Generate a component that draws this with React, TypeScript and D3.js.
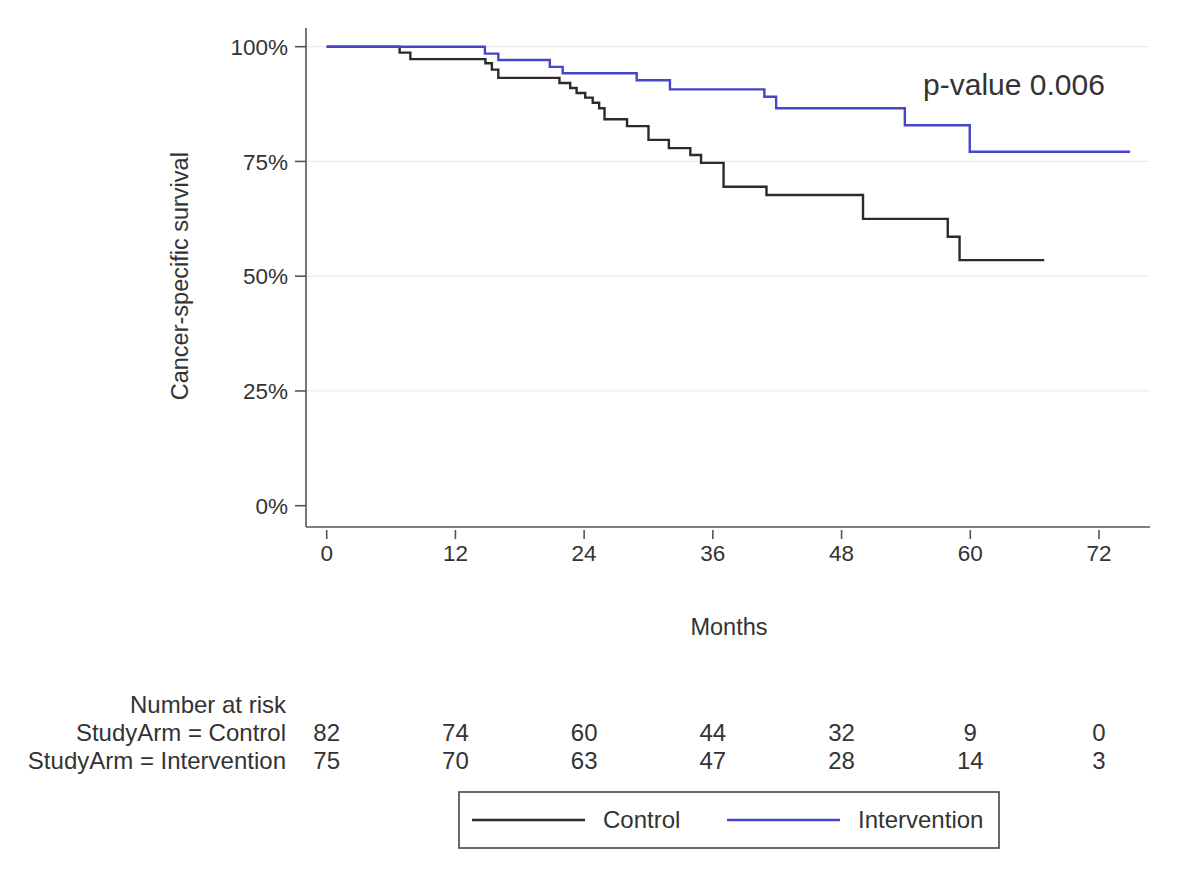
import React from 'react';
import * as d3 from 'd3';

// Kaplan-Meier step data (months, survival after step)
const controlTimes = [0, 6.8, 7.8, 14.8, 15.4, 16.0, 21.7, 22.7, 23.3, 24.1, 24.8, 25.4, 25.9, 28.0, 30.0, 31.9, 33.9, 34.9, 37.0, 41.0, 50.0, 57.9, 59.0, 66.9];
const controlSurv = [1.0, 0.987, 0.973, 0.964, 0.95, 0.932, 0.921, 0.91, 0.899, 0.889, 0.878, 0.866, 0.842, 0.827, 0.797, 0.779, 0.764, 0.747, 0.695, 0.677, 0.625, 0.586, 0.535, 0.535];

const interventionTimes = [0, 14.75, 16.0, 20.8, 22.0, 28.9, 32.0, 40.8, 41.9, 53.9, 59.95, 74.9];
const interventionSurv = [1.0, 0.985, 0.971, 0.956, 0.942, 0.927, 0.907, 0.891, 0.866, 0.829, 0.771, 0.771];

const xTicks = [0, 12, 24, 36, 48, 60, 72];
const yTicks = [0, 0.25, 0.5, 0.75, 1.0];
const gridTicks = [0.25, 0.5, 0.75, 1.0];

const riskLabels = ['StudyArm = Control', 'StudyArm = Intervention'];
const riskControl = [82, 74, 60, 44, 32, 9, 0];
const riskIntervention = [75, 70, 63, 47, 28, 14, 3];

const pValueText = 'p-value 0.006';

const FONT = '"Liberation Sans", Arial, sans-serif';
const TEXT = '#333';
const AXIS = '#555';
const CONTROL_COLOR = '#2b2b2b';
const INTERVENTION_COLOR = '#4646c8';

export default function App() {
  const width = 1200;
  const height = 890;

  const xScale = d3.scaleLinear().domain([0, 72]).range([326.7, 1099]);
  const yScale = d3.scaleLinear().domain([0, 1]).range([505.7, 46.7]);

  const axisLeftX = 306;
  const axisBottomY = 527;
  const plotRight = 1150;
  const axisTop = 28;

  const line = d3
    .line<[number, number]>()
    .x(d => xScale(d[0]))
    .y(d => yScale(d[1]))
    .curve(d3.curveStepAfter);

  const controlPts = controlTimes.map((t, i) => [t, controlSurv[i]] as [number, number]);
  const interventionPts = interventionTimes.map((t, i) => [t, interventionSurv[i]] as [number, number]);

  const riskRows = [riskControl, riskIntervention];

  return (
    <svg width={width} height={height} style={{ display: 'block', position: 'absolute', left: 0, top: 0, background: '#fff' }} fontFamily={FONT}>
      <rect x={0} y={0} width={width} height={height} fill="#fff" />

      {/* gridlines */}
      {gridTicks.map(t => (
        <line key={'g' + t} x1={axisLeftX} x2={plotRight} y1={yScale(t)} y2={yScale(t)} stroke="#ececec" strokeWidth={1.2} />
      ))}

      {/* curves */}
      <path d={line(controlPts) || ''} fill="none" stroke={CONTROL_COLOR} strokeWidth={2.4} />
      <path d={line(interventionPts) || ''} fill="none" stroke={INTERVENTION_COLOR} strokeWidth={2.4} />

      {/* y axis */}
      <line x1={axisLeftX} x2={axisLeftX} y1={axisTop} y2={axisBottomY} stroke={AXIS} strokeWidth={1.6} />
      {yTicks.map(t => (
        <g key={'y' + t}>
          <line x1={295} x2={axisLeftX} y1={yScale(t)} y2={yScale(t)} stroke={AXIS} strokeWidth={1.6} />
          <text x={288} y={yScale(t)} dy="0.36em" textAnchor="end" fontSize={22.5} fill={TEXT}>
            {d3.format('.0%')(t)}
          </text>
        </g>
      ))}
      <text
        transform={`translate(188,${yScale(0.5)}) rotate(-90)`}
        textAnchor="middle"
        fontSize={23.5}
        fill={TEXT}
      >
        Cancer-specific survival
      </text>

      {/* x axis */}
      <line x1={axisLeftX} x2={plotRight} y1={axisBottomY} y2={axisBottomY} stroke={AXIS} strokeWidth={1.6} />
      {xTicks.map(t => (
        <g key={'x' + t}>
          <line x1={xScale(t)} x2={xScale(t)} y1={530} y2={539} stroke={AXIS} strokeWidth={1.6} />
          <text x={xScale(t)} y={561} textAnchor="middle" fontSize={22.5} fill={TEXT}>
            {t}
          </text>
        </g>
      ))}
      <text x={729} y={635} textAnchor="middle" fontSize={23.5} fill={TEXT}>
        Months
      </text>

      {/* p-value */}
      <text x={1014} y={95} textAnchor="middle" fontSize={30} fill={TEXT}>
        {pValueText}
      </text>

      {/* number at risk */}
      <text x={286} y={713} textAnchor="end" fontSize={24} fill={TEXT}>
        Number at risk
      </text>
      {riskRows.map((row, r) => (
        <g key={'r' + r}>
          <text x={286} y={741 + r * 28} textAnchor="end" fontSize={24} fill={TEXT}>
            {riskLabels[r]}
          </text>
          {row.map((n, i) => (
            <text key={i} x={xScale(xTicks[i])} y={741 + r * 28} textAnchor="middle" fontSize={24} fill={TEXT}>
              {n}
            </text>
          ))}
        </g>
      ))}

      {/* legend */}
      <rect x={459} y={792} width={540} height={56} fill="#fff" stroke="#444" strokeWidth={1.6} />
      <line x1={472} x2={585} y1={820} y2={820} stroke={CONTROL_COLOR} strokeWidth={2.4} />
      <text x={603} y={828} fontSize={24} fill={TEXT}>
        Control
      </text>
      <line x1={727} x2={840} y1={820} y2={820} stroke={INTERVENTION_COLOR} strokeWidth={2.4} />
      <text x={858} y={828} fontSize={24} fill={TEXT}>
        Intervention
      </text>
    </svg>
  );
}
